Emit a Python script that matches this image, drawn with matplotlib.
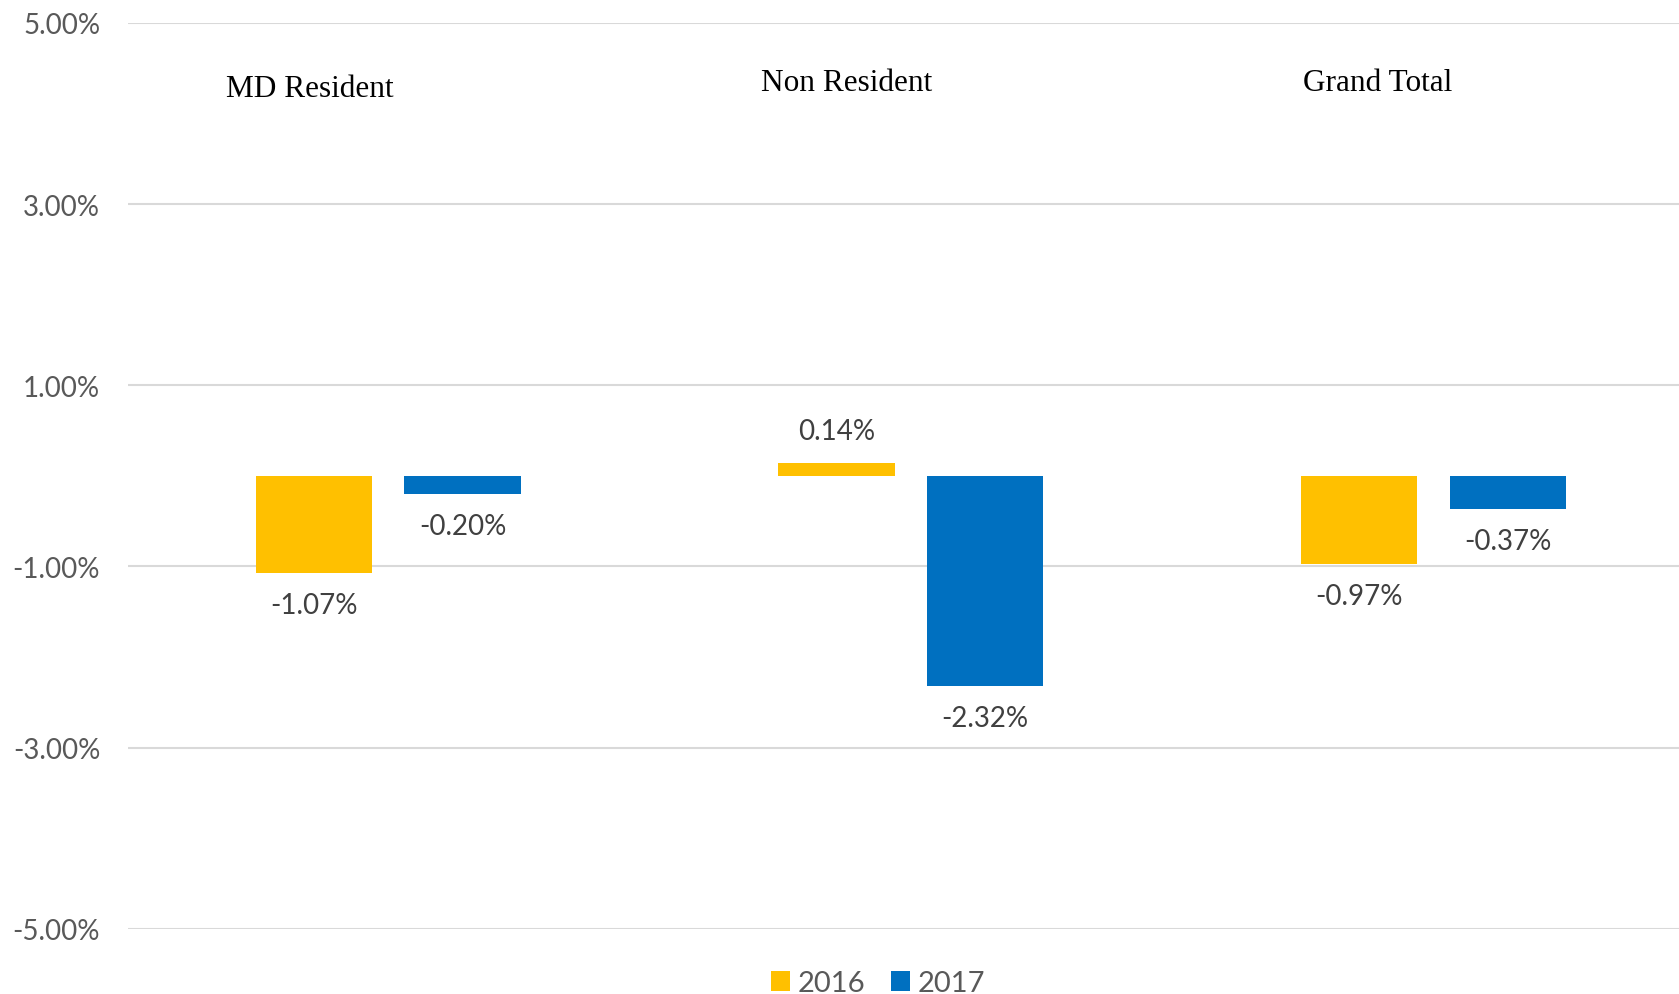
import matplotlib.pyplot as plt
import numpy as np

categories = ['MD Resident', 'Non Resident', 'Grand Total']
years = ['2016', '2017']
vals_2016 = [-1.07, 0.14, -0.97]
vals_2017 = [-0.20, -2.32, -0.37]
yticks = [5, 3, 1, -1, -3, -5]
colors = ['#FFC000', '#0070C0']

plt.rcParams['font.family'] = ['Lato', 'DejaVu Sans']

fig = plt.figure(figsize=(16.79, 9.95), dpi=100)
ax = fig.add_axes([0.0762, 0.0655, 0.9238, 0.9105])

x = np.arange(len(categories))
w = 0.223
off = 0.1424
bars = []
for i, (vals, yr) in enumerate(zip([vals_2016, vals_2017], years)):
    b = ax.bar(x + (i * 2 - 1) * off, vals, w, color=colors[i], label=yr, zorder=3)
    bars.append(b)
    for rect, v in zip(b, vals):
        cx = rect.get_x() + rect.get_width() / 2
        dy = 23 if v > 0 else -23
        ax.annotate('%.2f%%' % v, (cx, v), xytext=(0, dy), textcoords='offset points',
                    ha='center', va='center', fontsize=20, color='#404040')

ax.set_ylim(-5, 5)
ax.set_xlim(-0.498, 2.47)
ax.set_yticks(yticks)
ax.set_yticklabels(['%.2f%%' % t for t in yticks], fontsize=20, color='#595959')
ax.tick_params(axis='y', length=0, pad=20)
ax.set_xticks([])
ax.grid(axis='y', color='#d9d9d9', linewidth=1.5, zorder=0)
for s in ax.spines.values():
    s.set_visible(False)

# category titles
ax.text(-0.15, 4.28, categories[0], ha='center', va='center', fontsize=22.5,
        family=['Liberation Serif'], color='black')
ax.text(0.878, 4.34, categories[1], ha='center', va='center', fontsize=22.5,
        family=['Liberation Serif'], color='black')
ax.text(1.893, 4.34, categories[2], ha='center', va='center', fontsize=22.5,
        family=['Liberation Serif'], color='black')

fig.legend(handles=bars, labels=years, loc='center', bbox_to_anchor=(0.523, 0.011),
           ncol=2, frameon=False, fontsize=21, handlelength=0.65, handleheight=0.65,
           handletextpad=0.25, columnspacing=0.9, labelcolor='#595959')

fig.savefig('out.png', dpi=100)
